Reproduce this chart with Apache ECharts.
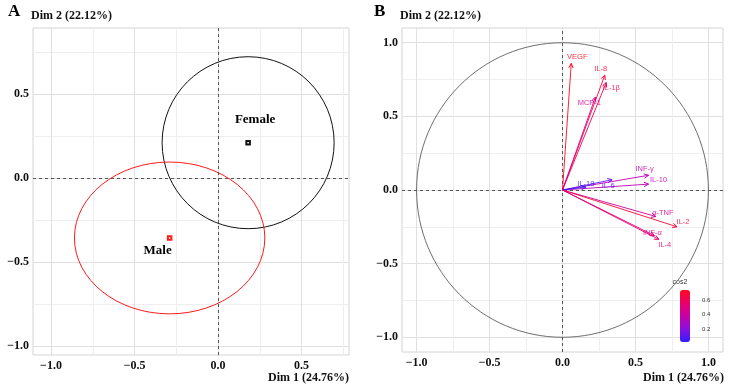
<!DOCTYPE html>
<html>
<head>
<meta charset="utf-8">
<script src="https://cdn.jsdelivr.net/npm/echarts@6.0.0/dist/echarts.min.js"></script>
<style>
  html, body { margin: 0; padding: 0; background: #fff; }
  #pca-chart { width: 732px; height: 391px; }
</style>
</head>
<body>
<div id="pca-chart"></div>
<script>
// ---- data ----
var dim1Name = 'Dim 1 (24.76%)';
var dim2Name = 'Dim 2 (22.12%)';

// panel A: individuals grouped by sex (group mean + concentration ellipse)
var groups = ['Female', 'Male'];
var groupDim1 = [0.18, -0.29];
var groupDim2 = [0.21, -0.357];
var ellipseRadiusX = [0.515, 0.57];
var ellipseRadiusY = [0.512, 0.452];

// panel B: variables (correlation circle), coloured by cos2
var variables = ['VEGF', 'IL-8', 'IL-1β', 'MCP-1', 'INF-γ', 'IL-10', 'IL-6', 'IL-18', 'α-TNF', 'IL-2', 'INF-α', 'IL-4'];
var varDim1 = [0.06, 0.29, 0.30, 0.225, 0.59, 0.59, 0.34, 0.16, 0.64, 0.785, 0.63, 0.66];
var varDim2 = [0.86, 0.78, 0.73, 0.63, 0.10, 0.04, 0.07, 0.02, -0.18, -0.25, -0.31, -0.335];
var varCos2 = [0.74, 0.69, 0.62, 0.45, 0.36, 0.35, 0.12, 0.03, 0.44, 0.68, 0.49, 0.55];
var unitCircle = [0, 0, 1, 1];

// axes
var gridValuesA = [-1, -0.75, -0.5, -0.25, 0, 0.25, 0.5, 0.75];
var gridValuesB = [-1, -0.75, -0.5, -0.25, 0, 0.25, 0.5, 0.75, 1];
var tickLabelsA = [-1, -0.5, 0, 0.5];
var tickLabelsB = [-1, -0.5, 0, 0.5, 1];
var cos2Range = [0.015, 0.75];
var cos2Ticks = [0.2, 0.4, 0.6];

// ---- styling ----
var SERIF = 'Liberation Serif';
var SANS = 'Liberation Sans';
var groupColors = ['#111111', '#ff1a1a'];
var groupLabelShift = { Female: [7, -23], Male: [-12, 13] };
var labelShift = {
	'VEGF': [6, -6], 'IL-8': [-4, -6], 'IL-1β': [5, 5], 'MCP-1': [-6, 6],
	'INF-γ': [-4, -6], 'IL-10': [10, -4], 'IL-6': [-4, 6], 'IL-18': [0, -3],
	'α-TNF': [7, -4], 'IL-2': [6, -5], 'INF-α': [-2, -3], 'IL-4': [6, 6]
};

function fmt(v) {
	return (v < 0 ? '\u2212' : '') + Math.abs(v).toFixed(1);
}

function valueAxis(gridIndex, min, max, gridValues, labelValues, isX) {
	return {
		type: 'value',
		gridIndex: gridIndex,
		min: min,
		max: max,
		axisLine: { show: false },
		axisTick: { show: false, customValues: gridValues },
		axisLabel: {
			customValues: labelValues,
			formatter: fmt,
			fontFamily: SERIF,
			fontWeight: 'bold',
			fontSize: 12,
			color: '#111',
			margin: isX ? 5 : 4
		},
		splitLine: { show: true, lineStyle: { color: ['#e0e0e0', '#eeeeee'], width: 1 } }
	};
}

function ellipseItem(params, api) {
	var c = api.coord([api.value(0), api.value(1)]);
	var s = api.size([api.value(2), api.value(3)]);
	return {
		type: 'ellipse',
		shape: { cx: c[0], cy: c[1], rx: s[0], ry: s[1] },
		style: { fill: 'none', stroke: api.visual('color'), lineWidth: 1 }
	};
}

function arrowItem(params, api) {
	var o = api.coord([0, 0]);
	var p = api.coord([api.value(0), api.value(1)]);
	var color = api.visual('color');
	var name = variables[params.dataIndex];
	var ang = Math.atan2(p[1] - o[1], p[0] - o[0]);
	var L = 5, a = Math.PI / 7;
	var shift = labelShift[name] || [0, -5];
	return {
		type: 'group',
		children: [
			{ type: 'line', shape: { x1: o[0], y1: o[1], x2: p[0], y2: p[1] }, style: { stroke: color, lineWidth: 1, opacity: 0.9 } },
			{
				type: 'polyline',
				shape: { points: [
					[p[0] - L * Math.cos(ang - a), p[1] - L * Math.sin(ang - a)],
					[p[0], p[1]],
					[p[0] - L * Math.cos(ang + a), p[1] - L * Math.sin(ang + a)]
				] },
				style: { stroke: color, fill: 'none', lineWidth: 1 }
			},
			{
				type: 'text',
				x: p[0] + shift[0],
				y: p[1] + shift[1],
				style: { text: name, fill: color, opacity: 0.85, font: '7.5px ' + SANS, align: 'center', verticalAlign: 'middle' }
			}
		]
	};
}

var zeroLines = {
	silent: true,
	symbol: 'none',
	label: { show: false },
	lineStyle: { type: [3, 3], color: '#555', width: 1 },
	data: [{ xAxis: 0 }, { yAxis: 0 }]
};

var chart = echarts.init(document.getElementById('pca-chart'));

var option = {
	animation: false,
	backgroundColor: '#fff',
	title: [
		{ text: 'A', left: 8, top: 3, textStyle: { fontFamily: SERIF, fontWeight: 'bold', fontSize: 17, color: '#000' } },
		{ text: dim2Name, left: 31, top: 10, textStyle: { fontFamily: SERIF, fontWeight: 'bold', fontSize: 12, color: '#111' } },
		{ text: dim1Name, right: 383, top: 372, textStyle: { fontFamily: SERIF, fontWeight: 'bold', fontSize: 12, color: '#111' } },
		{ text: 'B', left: 374, top: 3, textStyle: { fontFamily: SERIF, fontWeight: 'bold', fontSize: 17, color: '#000' } },
		{ text: dim2Name, left: 400, top: 10, textStyle: { fontFamily: SERIF, fontWeight: 'bold', fontSize: 12, color: '#111' } },
		{ text: dim1Name, right: 8, top: 372, textStyle: { fontFamily: SERIF, fontWeight: 'bold', fontSize: 12, color: '#111' } }
	].map(function (t) { t.padding = 0; return t; }),
	grid: [
		{ left: 33, top: 28, width: 316, height: 327, show: true, borderColor: '#d4d4d4', borderWidth: 1, backgroundColor: 'transparent', outerBoundsMode: 'none' },
		{ left: 402, top: 28, width: 321, height: 324, show: true, borderColor: '#d4d4d4', borderWidth: 1, backgroundColor: 'transparent', outerBoundsMode: 'none' },
		{ left: 680, top: 290, width: 10, height: 52, show: false, outerBoundsMode: 'none' }
	],
	xAxis: [
		valueAxis(0, -1.108, 0.784, gridValuesA, tickLabelsA, true),
		valueAxis(1, -1.1, 1.1, gridValuesB, tickLabelsB, true),
		{ type: 'value', gridIndex: 2, min: 0, max: 1, show: false }
	],
	yAxis: [
		valueAxis(0, -1.054, 0.893, gridValuesA, tickLabelsA, false),
		valueAxis(1, -1.1, 1.1, gridValuesB, tickLabelsB, false),
		{
			type: 'value', gridIndex: 2, min: cos2Range[0], max: cos2Range[1], position: 'right',
			name: 'cos2', nameLocation: 'end', nameGap: 4,
			nameTextStyle: { fontFamily: SANS, fontSize: 7, color: '#333', padding: [0, 0, 0, 0] },
			axisLine: { show: false },
			axisTick: { show: false, customValues: cos2Ticks },
			axisLabel: { customValues: cos2Ticks, fontFamily: SANS, fontSize: 6, color: '#333', margin: 12, formatter: function (v) { return v.toFixed(1); } },
			splitLine: { show: false }
		}
	],
	visualMap: {
		type: 'continuous',
		seriesIndex: 3,
		dimension: 2,
		min: cos2Range[0],
		max: cos2Range[1],
		calculable: false,
		orient: 'vertical',
		left: 680,
		top: 290,
		itemWidth: 10,
		itemHeight: 52,
		padding: 0,
		inRange: { color: ['#2f1cff', '#8a10e0', '#c800a8', '#e8006a', '#ff0a1e'] }
	},
	series: [
		{
			type: 'custom',
			xAxisIndex: 0, yAxisIndex: 0,
			renderItem: ellipseItem,
			data: groups.map(function (g, i) {
				return { value: [groupDim1[i], groupDim2[i], ellipseRadiusX[i], ellipseRadiusY[i]], itemStyle: { color: groupColors[i] } };
			}),
			z: 3
		},
		{
			type: 'scatter',
			xAxisIndex: 0, yAxisIndex: 0,
			symbol: 'emptyRect',
			symbolSize: 3.5,
			itemStyle: { opacity: 1 },
			data: groups.map(function (g, i) {
				return {
					name: g,
					value: [groupDim1[i], groupDim2[i]],
					itemStyle: { color: groupColors[i], borderColor: groupColors[i], borderWidth: 0.6, opacity: 1 },
					label: { show: true, formatter: g, position: 'inside', offset: groupLabelShift[g], fontFamily: SERIF, fontWeight: 'bold', fontSize: 13, color: '#000', opacity: 1 }
				};
			}),
			markLine: zeroLines,
			z: 4
		},
		{
			type: 'custom',
			xAxisIndex: 1, yAxisIndex: 1,
			renderItem: ellipseItem,
			data: [{ value: unitCircle, itemStyle: { color: '#6e6e6e' } }],
			markLine: zeroLines,
			z: 2
		},
		{
			type: 'custom',
			xAxisIndex: 1, yAxisIndex: 1,
			renderItem: arrowItem,
			data: variables.map(function (v, i) { return [varDim1[i], varDim2[i], varCos2[i]]; }),
			z: 5
		}
	]
};

option && chart.setOption(option);
</script>
</body>
</html>
